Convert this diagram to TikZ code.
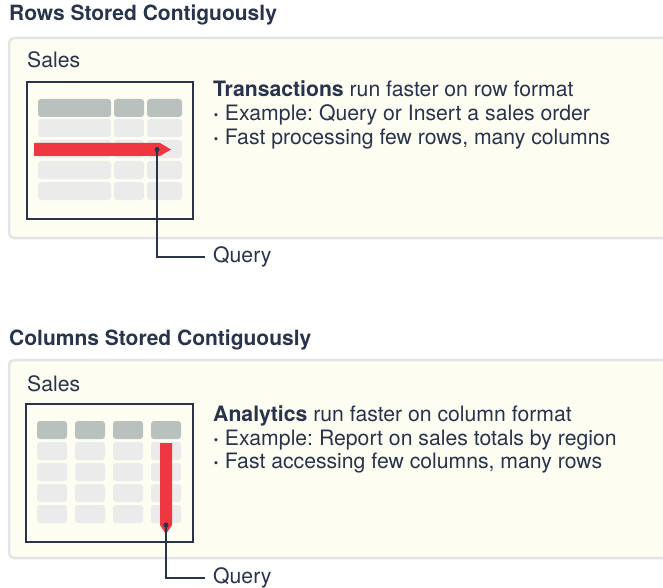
\documentclass[tikz,border=0pt]{standalone}
\usepackage{fontspec}
\setmainfont{TeX Gyre Heros}
\frenchspacing
\definecolor{ink}{HTML}{28334D}
\definecolor{panelfill}{HTML}{FDFDF2}
\definecolor{paneledge}{HTML}{E1E5E5}
\definecolor{headcell}{HTML}{B9C1BF}
\definecolor{bodycell}{HTML}{EBEBEB}
\definecolor{qred}{HTML}{EF3742}
\tikzset{
  panel/.style={fill=panelfill, draw=paneledge, line width=2.5pt, rounded corners=5pt},
  frame/.style={draw=ink, line width=1.1pt},
  head/.style={fill=headcell, rounded corners=3pt},
  cell/.style={fill=bodycell, rounded corners=3pt},
  title/.style={anchor=base west, inner sep=0pt, font=\fontsize{21}{24}\selectfont\bfseries, text=ink},
  txt/.style={anchor=base west, inner sep=0pt, font=\fontsize{21.2}{24}\selectfont, text=ink},
  label/.style={anchor=west, inner sep=0pt, inner xsep=8pt, font=\fontsize{21.2}{24}\selectfont, text=ink},
  dot/.style={circle, fill=ink, inner sep=0pt, minimum size=5pt},
  lead/.style={draw=ink, line width=1.1pt}
}
\newcommand{\bul}{\textbf{·}}
\begin{document}
\begin{tikzpicture}[x=1pt,y=-1pt]
	\useasboundingbox (0,0) rectangle (663,588);
	% rows
	\node[title] (rtitle) at (9,21) {Rows Stored Contiguously};
	\draw[panel] (9,38) rectangle (690,238);
	\node[txt] (rsales) at (27,68) {Sales};
	\draw[frame] (27,82) rectangle (193,219);
	\foreach \xa/\xb in {38/111,114/144,147/182} {
		\fill[head] (\xa,99) rectangle (\xb,117);
		\foreach \ya in {119,140,161,182}
			\fill[cell] (\xa,\ya) rectangle (\xb,\ya+18);
	}
	\fill[qred] (34,143) -- (160,143) -- (171,149.5) -- (160,156) -- (34,156) -- cycle;
	\node[dot] (rdot) at (157,149.5) {};
	\node[label] (rquery) at (205,257) {Query};
	\draw[lead] (rdot.center) |- (rquery.west);
	\node[txt] (rt1) at (213,97) {\textbf{Transactions} run faster on row format};
	\node[txt] (rt2) at (213,121) {\bul{} Example: Query or Insert a sales order};
	\node[txt] (rt3) at (213,145) {\bul{} Fast processing few rows, many columns};
	% columns
	\node[title] (ctitle) at (9,345) {Columns Stored Contiguously};
	\draw[panel] (9,360) rectangle (690,558);
	\node[txt] (csales) at (27,391) {Sales};
	\draw[frame] (26,404) rectangle (193,542);
	\foreach \xa in {37,75,113,151} {
		\fill[head] (\xa,421) rectangle (\xa+30,439);
		\foreach \ya in {442,463,484,505}
			\fill[cell] (\xa,\ya) rectangle (\xa+30,\ya+18);
	}
	\fill[qred] (160,443) -- (172,443) -- (172,525) -- (166,534) -- (160,525) -- cycle;
	\node[dot] (cdot) at (166,525) {};
	\node[label] (cquery) at (205,578) {Query};
	\draw[lead] (cdot.center) |- (cquery.west);
	\node[txt] (ct1) at (213,421) {\textbf{Analytics} run faster on column format};
	\node[txt] (ct2) at (213,445) {\bul{} Example: Report on sales totals by region};
	\node[txt] (ct3) at (213,468) {\bul{} Fast accessing few columns, many rows};
\end{tikzpicture}
\end{document}
